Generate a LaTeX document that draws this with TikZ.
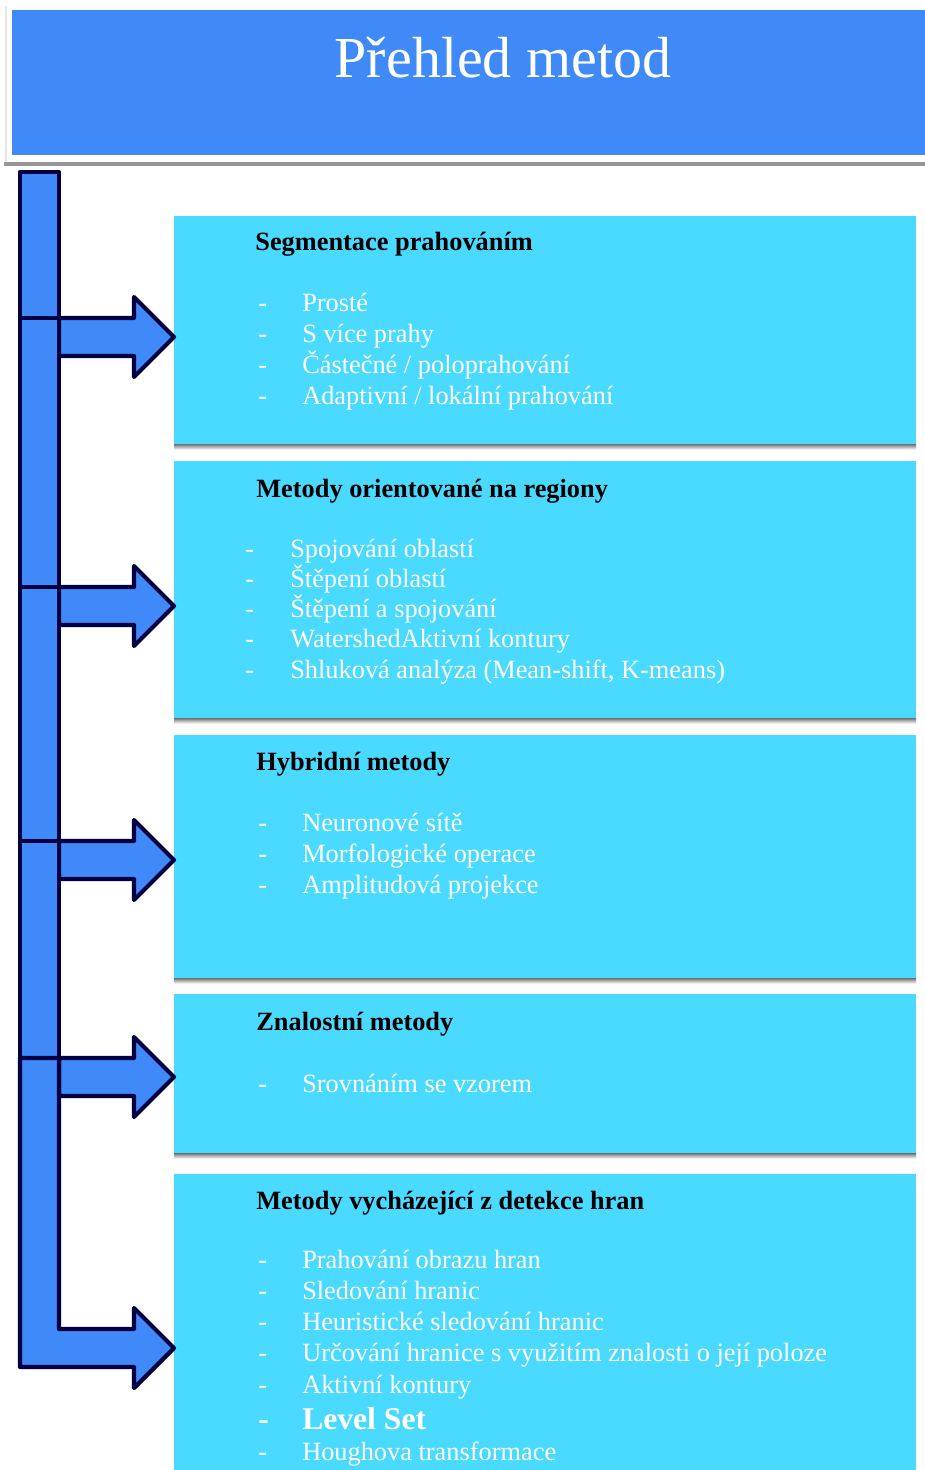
\documentclass[tikz,border=0pt]{standalone}
\usepackage{fontspec}
\setmainfont{Liberation Serif}

\definecolor{bandblue}{RGB}{64,137,249}
\definecolor{panelcyan}{RGB}{74,218,255}
\definecolor{navy}{RGB}{0,0,64}
\definecolor{shade}{RGB}{160,160,160}
\definecolor{rulegrey}{RGB}{150,150,150}

\newcommand{\entry}[1]{\makebox[25pt][l]{-}#1}

\begin{document}
\begin{tikzpicture}[
	x = 0.02cm, y = -0.02cm, % one unit = one pixel, y runs down
	line join = round,
	panel/.style = {fill=panelcyan, anchor=north west, inner sep=0, minimum width=14.84cm},
	head/.style = {anchor=base west, inner sep=0, font=\fontsize{15}{18}\selectfont\bfseries},
	item/.style = {anchor=base west, inner sep=0, text=white, font=\fontsize{15}{18}\selectfont},
	bar/.style = {fill=bandblue, draw=navy, line width=2.4pt}
	]
	
	\useasboundingbox (0,0) rectangle (925,1470);
	
	% title band
	\draw[black!10, line width=0.6pt] (6,6) -- (6,162);
	\node[fill=bandblue, anchor=north west, inner sep=0, minimum width=18.26cm, minimum height=2.9cm] (band) at (12,10) {};
	\node[anchor=base, inner sep=0, text=white, font=\fontsize{33}{40}\selectfont] (title) at (503,78) {Přehled metod};
	\fill[rulegrey] (4,162) rectangle (925,166);
	
	% panels
	\foreach \n/\y/\h in {seg/216/4.56cm, reg/461/5.14cm, hyb/735/4.86cm, zna/994/3.18cm, hran/1174/5.92cm}
		\node[panel, minimum height=\h] (\n) at (174,\y) {};
	\foreach \n in {seg, reg, hyb, zna}
		\fill[shade] (\n.south west) rectangle ++(742,5);
	
	\node[head] (segH) at (255,250) {Segmentace prahováním};
	\foreach \t [count=\i from 0] in {Prosté, S více prahy, Částečné / poloprahování, Adaptivní / lokální prahování}
		\node[item] (seg-\i) at (258,311+31*\i) {\entry{\t}};
	
	\node[head] (regH) at (256,497) {Metody orientované na regiony};
	\foreach \t [count=\i from 0] in {Spojování oblastí, Štěpení oblastí, Štěpení a spojování, WatershedAktivní kontury, {Shluková analýza (Mean-shift, K-means)}}
		\node[item] (reg-\i) at (245,557+30.3*\i) {\makebox[25.6pt][l]{-}\t};
	
	\node[head] (hybH) at (256,770) {Hybridní metody};
	\foreach \t [count=\i from 0] in {Neuronové sítě, Morfologické operace, Amplitudová projekce}
		\node[item] (hyb-\i) at (258,831+31*\i) {\entry{\t}};
	
	\node[head] (znaH) at (256,1030) {Znalostní metody};
	\node[item] (zna-0) at (258,1092) {\entry{Srovnáním se vzorem}};
	
	\node[head] (hranH) at (256,1209) {Metody vycházející z detekce hran};
	\foreach \t [count=\i from 0] in {Prahování obrazu hran, Sledování hranic, Heuristické sledování hranic, Určování hranice s využitím znalosti o její poloze, Aktivní kontury}
		\node[item] (hran-\i) at (258,1268+31.3*\i) {\entry{\t}};
	\node[item, font=\fontsize{18}{20}\selectfont\bfseries] (hran-5) at (258,1429) {\makebox[25pt][l]{-}Level Set};
	\node[item] (hran-6) at (258,1460) {\entry{Houghova transformace}};
	
	% arrows into the panels
	\foreach \n/\c [count=\k] in {seg/337, reg/606, hyb/860, zna/1077, hran/1348}
		\coordinate (tip\k) at (\n.west |- 0,\c);
	\foreach \k in {1,...,4}
		\draw[bar] (tip\k) -- ++(-40,-40) -- ++(0,21) -- ++(-75,0) -- ++(0,38) -- ++(75,0) -- ++(0,21) -- cycle;
	
	% spine
	\draw[bar] (20,172) rectangle (59,318);
	\draw[bar] (20,318) rectangle (59,587);
	\draw[bar] (20,587) rectangle (59,841);
	\draw[bar] (20,841) rectangle (59,1058);
	\draw[bar] (tip5) -- ++(-40,-40) -- ++(0,21) -- ++(-75,0) -- ++(0,-271) -- ++(-39,0) -- ++(0,309) -- ++(114,0) -- ++(0,21) -- cycle;
	
\end{tikzpicture}
\end{document}
